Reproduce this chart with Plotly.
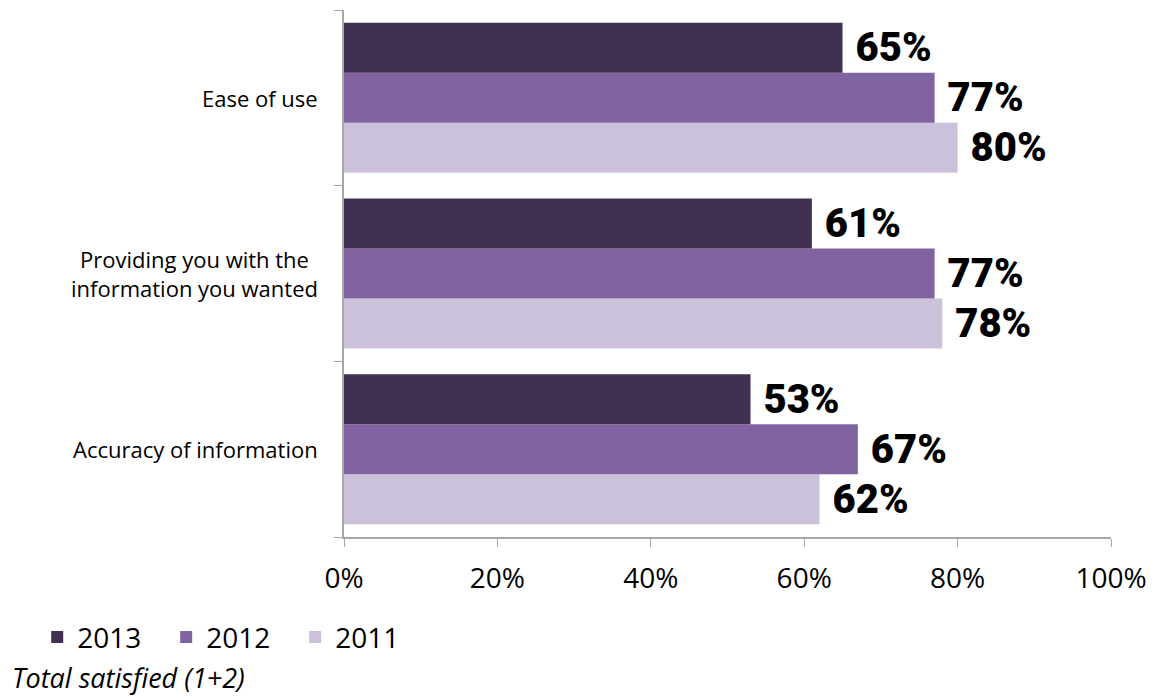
import plotly.graph_objects as go

# Survey categories, listed bottom to top as drawn on the y axis
categories = ["Accuracy of information",
              "Providing you with the<br>information you wanted",
              "Ease of use"]
values_2011 = [62, 78, 80]
values_2012 = [67, 77, 77]
values_2013 = [53, 61, 65]

series = [("2011", values_2011, "#CCC1DA"),
          ("2012", values_2012, "#8064A2"),
          ("2013", values_2013, "#403152")]

label_font = dict(family="Roboto, Liberation Sans, sans-serif",
                  size=40, color="black", weight=900)

fig = go.Figure()
for name, vals, color in series:
    fig.add_trace(go.Bar(
        name=name, y=categories, x=vals, orientation="h",
        marker=dict(color=color, line=dict(width=0)),
        text=[f"\u00a0{v}%" for v in vals], textposition="outside",
        textfont=label_font, cliponaxis=False,
    ))

# Category names as centred, right-anchored labels left of the axis
cat_labels = [dict(text=c, xref="paper", yref="y", x=(320 - 344) / 767, y=c,
                   xanchor="right", yanchor="middle", align="center", showarrow=False,
                   font=dict(size=22, family="Open Sans, sans-serif"))
              for c in categories]

fig.update_layout(
    width=1163, height=700,
    margin=dict(l=344, r=52, t=10, b=163),
    barmode="group", bargap=0.146, bargroupgap=0,
    plot_bgcolor="white", paper_bgcolor="white",
    font=dict(family="Open Sans, sans-serif", color="black"),
    legend=dict(orientation="h", traceorder="reversed",
                x=-0.4, xanchor="left", y=-0.143, yanchor="top",
                font=dict(size=28), entrywidth=84, entrywidthmode="pixels",
                itemclick=False),
    xaxis=dict(range=[0, 100], tickvals=[0, 20, 40, 60, 80, 100],
               ticktext=["0%", "20%", "40%", "60%", "80%", "100%"],
               showgrid=False, zeroline=False, showline=True,
               linecolor="#A6A6A6", linewidth=1.5,
               ticks="outside", ticklen=8, tickcolor="#A6A6A6",
               tickfont=dict(size=28), ticklabelstandoff=8),
    yaxis=dict(showgrid=False, showline=True, linecolor="#A6A6A6", linewidth=1.5,
               ticks="outside", tickson="boundaries", ticklen=8, tickcolor="#A6A6A6",
               showticklabels=False),
    annotations=cat_labels + [
        dict(text="<i>Total satisfied (1+2)</i>", xref="paper", yref="paper",
             x=(10 - 344) / 767, y=(537 - 677) / 527,
             xanchor="left", yanchor="middle", showarrow=False,
             font=dict(size=27, family="Open Sans, sans-serif"))],
)

fig.write_html("out.html")
